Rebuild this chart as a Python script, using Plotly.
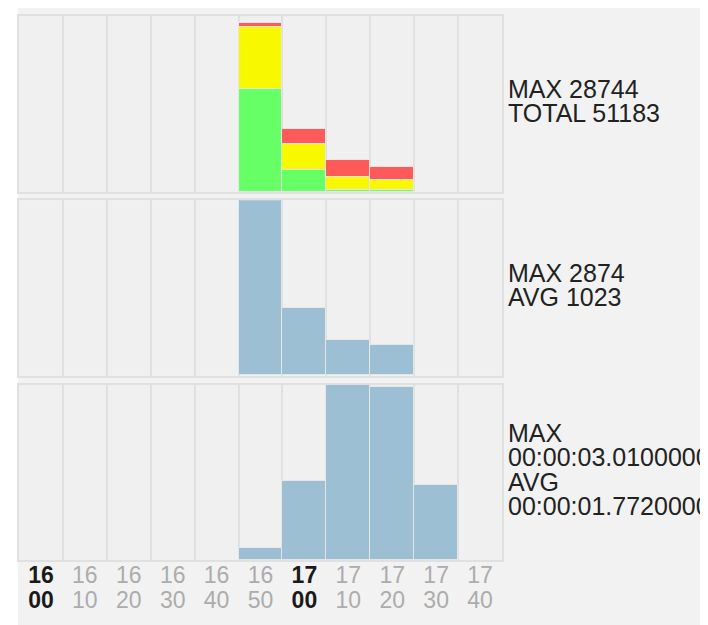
import plotly.graph_objects as go

# ---- data ----
times = ["16:00", "16:10", "16:20", "16:30", "16:40", "16:50",
         "17:00", "17:10", "17:20", "17:30", "17:40"]
green = [0, 0, 0, 0, 0, 17627, 3729, 339, 339, 0, 0]
yellow = [0, 0, 0, 0, 0, 10508, 4576, 2203, 1695, 0, 0]
red = [0, 0, 0, 0, 0, 609, 2542, 2881, 2203, 0, 0]
counts = [0, 0, 0, 0, 0, 2874, 1110, 572, 490, 0, 0]
durations = [0, 0, 0, 0, 0, 0.22, 1.36, 3.01, 2.97, 1.30, 0]  # seconds

panel1_text = ["MAX 28744", "TOTAL 51183"]
panel2_text = ["MAX 2874", "AVG 1023"]
panel3_text = ["MAX", "00:00:03.0100000", "AVG", "00:00:01.7720000"]

# ---- style ----
FONT = "Liberation Sans, Arial, sans-serif"
BG = "#f2f2f2"
CELL = "#f0f0f0"
BORDER = "#e0e0e0"
BLUE = "#9dbfd3"

def nz(vals):
    return [v if v else None for v in vals]

xs = list(range(len(times)))
hours = [t.split(":")[0] for t in times]
mins = [t.split(":")[1] for t in times]

def fmt(s, bold):
    return f"<b><span style='color:#1a1a1a'>{s}</span></b>" if bold else s

hour_text = [fmt(h, m == "00") for h, m in zip(hours, mins)]
min_text = [fmt(m, m == "00") for m in mins]

fig = go.Figure()
bar_line = dict(color="#e6e6e6", width=1)
for name, vals, col in [("green", green, "#66ff66"),
                        ("yellow", yellow, "#f8f800"),
                        ("red", red, "#ff5a5a")]:
    fig.add_trace(go.Bar(x=xs, y=nz(vals), name=name, width=1,
                         marker=dict(color=col, line=bar_line),
                         xaxis="x", yaxis="y", showlegend=False))
fig.add_trace(go.Bar(x=xs, y=nz(counts), width=1,
                     marker=dict(color=BLUE, line=bar_line),
                     xaxis="x2", yaxis="y2", showlegend=False))
fig.add_trace(go.Bar(x=xs, y=nz(durations), width=1,
                     marker=dict(color=BLUE, line=bar_line),
                     xaxis="x3", yaxis="y3", showlegend=False))
fig.add_trace(go.Scatter(x=xs, y=[None] * len(xs), mode="lines",
                         xaxis="x4", yaxis="y3", showlegend=False,
                         hoverinfo="skip"))

# page has an 8px body margin; figure fills (and slightly overflows) the window
W, H = 708, 617
L, R, T, B = 11, 214, 6, 65
ph = H - T - B  # 546
pw = W - L - R

d1 = [(560 - 191) / ph, 1.0]
d2 = [(560 - 375) / ph, (560 - 199) / ph]
d3 = [0.0, (560 - 384) / ph]

xcommon = dict(range=[-0.5, len(xs) - 0.5], showgrid=False, zeroline=False,
               showline=True, linecolor=BORDER, linewidth=2, mirror=True,
               ticks="", fixedrange=True,
               minor=dict(tickmode="linear", tick0=0.5, dtick=1,
                          showgrid=True, gridcolor=BORDER, gridwidth=2, ticks=""))
ycommon = dict(showgrid=False, zeroline=False, showticklabels=False,
               showline=True, linecolor=BORDER, linewidth=2, mirror=True,
               ticks="", fixedrange=True)

TICKFONT = dict(family=FONT, size=23, color="#acacac")

fig.update_layout(
    width=W, height=H,
    margin=dict(l=L, r=R, t=T, b=B),
    paper_bgcolor=BG, plot_bgcolor=CELL,
    barmode="stack", bargap=0,
    font=dict(family=FONT, size=22, color="#222222"),
    xaxis=dict(**xcommon, anchor="y", showticklabels=False),
    yaxis=dict(**ycommon, domain=d1, range=[0, 30000], anchor="x"),
    xaxis2=dict(**xcommon, anchor="y2", showticklabels=False),
    yaxis2=dict(**ycommon, domain=d2, range=[0, max(counts)], anchor="x2"),
    xaxis3=dict(**xcommon, anchor="y3", showticklabels=True,
                tickmode="array", tickvals=xs, ticktext=hour_text,
                tickfont=TICKFONT, ticklabelstandoff=-7),
    yaxis3=dict(**ycommon, domain=d3, range=[0, max(durations)], anchor="x3"),
    xaxis4=dict(range=[-0.5, len(xs) - 0.5], overlaying="x3", anchor="y3",
                side="bottom", showgrid=False, zeroline=False, showline=False,
                tickmode="array", tickvals=xs, ticktext=min_text, ticks="",
                tickfont=TICKFONT, ticklabelstandoff=24, fixedrange=True),
    hovermode=False,
)

# white strip at the left of the picture
fig.add_shape(type="rect", xref="paper", yref="paper",
              x0=-L / pw - 0.02, x1=-0.002, y0=-B / ph - 0.02, y1=1 + T / ph + 0.02,
              fillcolor="white", line=dict(width=0), layer="below")

# side statistics
def side_text(lines, yref, spacing=24.5):
    n = len(lines)
    for i, txt in enumerate(lines):
        fig.add_annotation(text=txt, xref="paper", x=1, xshift=4, xanchor="left",
                           yref=yref, y=0.5,
                           yshift=((n - 1) / 2 - i) * spacing + 3,
                           showarrow=False, align="left",
                           font=dict(family=FONT, size=25, color="#222222"))

side_text(panel1_text, "y domain")
side_text(panel2_text, "y2 domain")
side_text(panel3_text, "y3 domain")

fig.write_html("out.html")
